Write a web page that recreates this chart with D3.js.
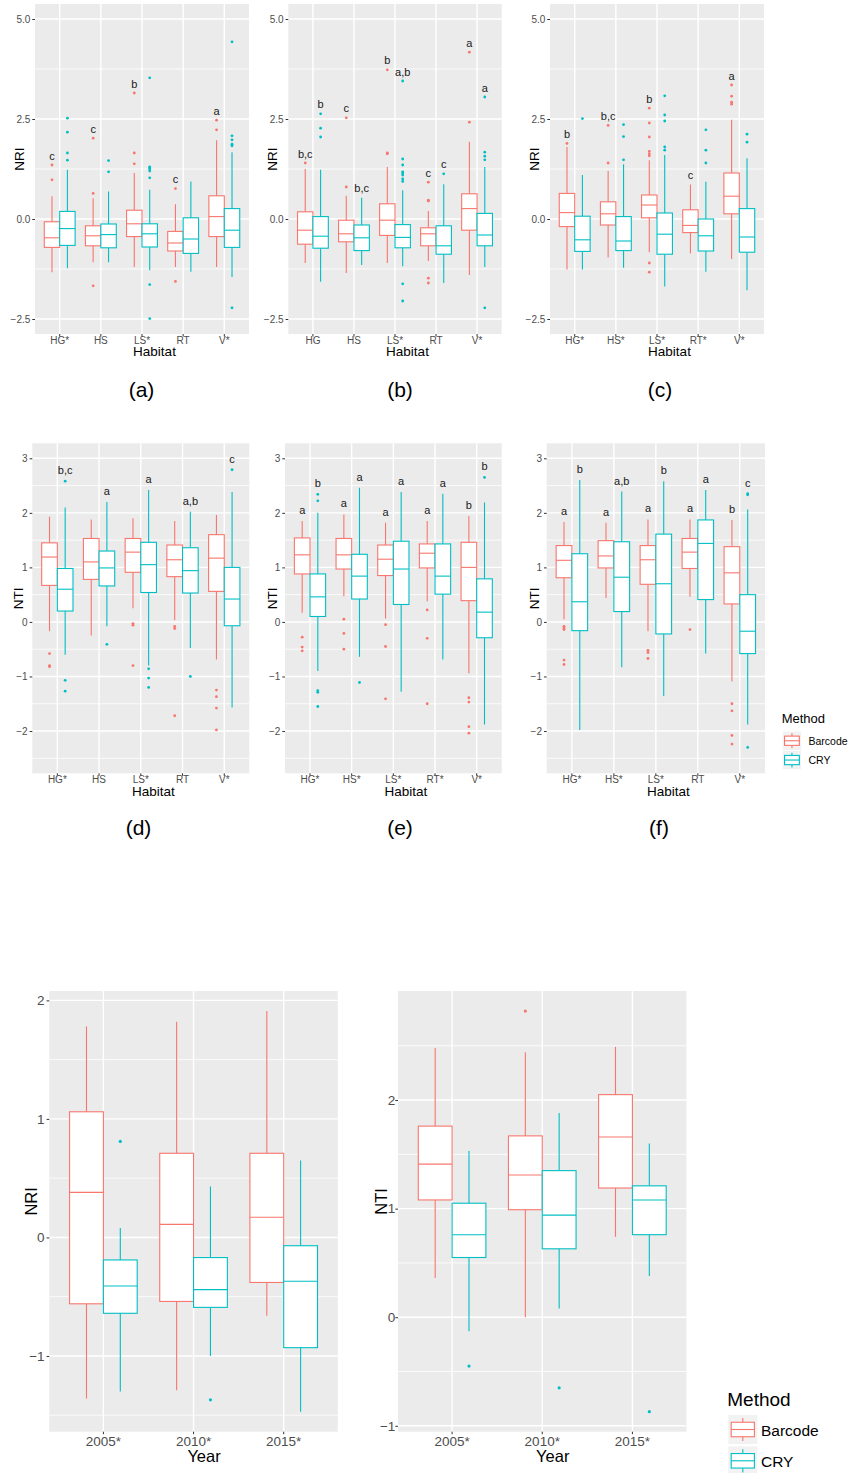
<!DOCTYPE html>
<html>
<head>
<meta charset="utf-8">
<script src="https://cdn.jsdelivr.net/npm/d3@7"></script>
<style>
  body { margin: 0; background: #fff; }
  svg { display: block; font-family: "Liberation Sans", Arial, Helvetica, sans-serif; }
</style>
</head>
<body>
<svg id="fig" width="852" height="1473"></svg>
<script>
// ---------- categories ----------
const habitats = ["HG", "HS", "LS", "RT", "V"];
const methods = ["Barcode", "CRY"];
const years = ["2005", "2010", "2015"];
const methodColors = ["#F8766D", "#00BFC4"];

// x tick labels (an asterisk marks a significant method difference)
const xLabelsA = ["HG*", "HS", "LS*", "RT", "V*"];
const xLabelsB = ["HG", "HS", "LS*", "RT", "V*"];
const xLabelsC = ["HG*", "HS*", "LS*", "RT*", "V*"];
const xLabelsD = ["HG*", "HS", "LS*", "RT", "V*"];
const xLabelsE = ["HG*", "HS*", "LS*", "RT*", "V*"];
const xLabelsF = ["HG*", "HS*", "LS*", "RT", "V*"];
const xLabelsYear = ["2005*", "2010*", "2015*"];

// y tick values
const nriTicks = [-2.5, 0, 2.5, 5];
const nriMinor = [-1.25, 1.25, 3.75];
const ntiTicks = [-2, -1, 0, 1, 2, 3];
const ntiMinor = [-2.5, -1.5, -0.5, 0.5, 1.5, 2.5];
const yearNriTicks = [-1, 0, 1, 2];
const yearNriMinor = [-1.5, -0.5, 0.5, 1.5];
const yearNtiTicks = [-1, 0, 1, 2];
const yearNtiMinor = [-0.5, 0.5, 1.5, 2.5];

// box statistics per habitat: [lower whisker, Q1, median, Q3, upper whisker]
// (a) NRI
const aBarcode = [[-1.33,-0.71,-0.47,-0.07,0.57],[-1.08,-0.67,-0.42,-0.17,0.52],[-1.2,-0.44,-0.12,0.22,1.15],[-1.2,-0.8,-0.6,-0.31,0.37],[-1.2,-0.44,0.06,0.58,1.97]];
const aBarcodeOut = [[0.98,1.35],[0.64,2.02,-1.67],[1.38,1.65,3.15],[0.76,-1.56],[2.23,2.47]];
const aCry = [[-1.23,-0.66,-0.24,0.19,1.23],[-1.08,-0.72,-0.39,-0.125,0.69],[-1.28,-0.7,-0.37,-0.12,0.73],[-1.32,-0.86,-0.5,0.03,0.94],[-1.45,-0.71,-0.28,0.26,1.67]];
const aCryOut = [[1.47,1.65,2.17,2.52],[1.18,1.46],[1.03,1.2,1.25,1.28,1.3,3.53,-1.64,-2.49],[],[1.83,1.87,1.98,2.08,4.43,-2.22]];
const aLettersBarcode = ["c","c","b","c","a"];
const aLettersCry = ["","","","",""];

// (b) NRI
const bBarcode = [[-1.1,-0.63,-0.28,0.18,1.25],[-1.35,-0.57,-0.37,-0.03,0.58],[-1.1,-0.41,-0.03,0.38,1.3],[-1.05,-0.67,-0.37,-0.22,0.2],[-1.4,-0.28,0.26,0.63,1.93]];
const bBarcodeOut = [[1.4],[0.8,2.53],[1.63,1.65,3.73],[0.45,0.47,0.92,-1.48,-1.6],[2.42,4.17]];
const bCry = [[-1.57,-0.73,-0.43,0.06,1.23],[-1.15,-0.79,-0.47,-0.15,0.53],[-1.18,-0.72,-0.46,-0.14,0.72],[-1.6,-0.88,-0.67,-0.17,0.87],[-1.2,-0.67,-0.4,0.14,1.3]];
const bCryOut = [[2.05,2.27,2.63],[],[0.94,1.0,1.1,1.15,1.18,1.35,1.5,3.45,-1.62,-2.05],[1.13],[1.48,1.57,1.67,3.05,-2.22]];
const bLettersBarcode = ["b,c","c","b","c","a"];
const bLettersCry = ["b","b,c","a,b","c","a"];

// (c) NRI
const cBarcode = [[-1.26,-0.19,0.16,0.64,1.8],[-0.96,-0.15,0.13,0.43,1.2],[-0.83,0.03,0.35,0.6,1.47],[-0.86,-0.34,-0.16,0.23,0.86],[-1.0,0.13,0.57,1.15,2.48]];
const cBarcodeOut = [[1.89],[1.4,2.34],[1.58,1.63,1.69,2.05,2.4,2.77,-1.1,-1.33],[],[2.87,2.92,3.07,3.35]];
const cCry = [[-1.26,-0.81,-0.52,0.07,1.1],[-1.22,-0.79,-0.55,0.06,1.37],[-1.69,-0.88,-0.38,0.15,1.6],[-1.32,-0.8,-0.42,0.0,0.93],[-1.78,-0.83,-0.45,0.26,1.52]];
const cCryOut = [[2.51],[1.48,2.06,2.36],[1.72,1.8,2.45,2.6,3.08],[1.4,1.72,2.23],[1.92,2.12]];
const cLettersBarcode = ["b","b,c","b","c","a"];
const cLettersCry = ["","","","",""];

// (d) NTI
const dBarcode = [[-0.17,0.67,1.19,1.45,1.93],[-0.25,0.78,1.1,1.53,1.88],[0.25,0.91,1.28,1.53,1.9],[0.03,0.83,1.14,1.41,1.85],[-0.69,0.56,1.17,1.6,1.96]];
const dBarcodeOut = [[-0.58,-0.8,-0.82],[],[-0.03,-0.06,-0.8],[-0.08,-0.12,-1.72],[-1.25,-1.37,-1.58,-1.98]];
const dCry = [[-0.6,0.2,0.6,0.98,2.1],[-0.08,0.66,0.99,1.3,2.2],[-0.8,0.54,1.05,1.46,2.42],[-0.48,0.53,0.94,1.36,2.02],[-1.57,-0.07,0.42,1.0,2.38]];
const dCryOut = [[2.58,-1.07,-1.27],[-0.41],[-0.86,-1.03,-1.2],[-1.0],[2.79]];
const dLettersBarcode = ["","","","",""];
const dLettersCry = ["b,c","a","a","a,b","c"];

// (e) NTI
const eBarcode = [[0.17,0.88,1.23,1.54,1.85],[0.47,0.97,1.23,1.53,1.97],[0.06,0.85,1.15,1.41,1.82],[0.38,0.99,1.26,1.43,1.85],[-0.94,0.39,1.0,1.46,1.94]];
const eBarcodeOut = [[-0.28,-0.46,-0.53],[0.05,-0.21,-0.5],[-0.05,-0.45,-1.41],[0.22,-0.3,-1.5],[-1.39,-1.47,-1.92,-2.04]];
const eCry = [[-0.9,0.1,0.46,0.88,2.0],[-0.64,0.42,0.84,1.24,2.46],[-1.28,0.32,0.97,1.48,2.38],[-0.69,0.51,0.84,1.43,2.35],[-1.88,-0.29,0.18,0.79,2.19]];
const eCryOut = [[2.22,2.34,-1.26,-1.29,-1.55],[-1.11],[],[],[2.65]];
const eLettersBarcode = ["a","a","a","a","b"];
const eLettersCry = ["b","a","a","a","b"];

// (f) NTI
const fBarcode = [[0.05,0.81,1.13,1.4,1.83],[0.44,0.99,1.21,1.49,1.82],[-0.17,0.69,1.14,1.4,1.88],[0.46,0.98,1.28,1.53,1.88],[-1.09,0.33,0.9,1.38,1.87]];
const fBarcodeOut = [[-0.08,-0.11,-0.14,-0.7,-0.78],[],[-0.52,-0.56,-0.67],[-0.14],[-1.5,-1.63,-2.08,-2.24]];
const fCry = [[-1.98,-0.16,0.37,1.25,2.6],[-0.83,0.19,0.82,1.47,2.39],[-1.36,-0.22,0.7,1.61,2.58],[-0.58,0.41,1.44,1.87,2.42],[-1.88,-0.58,-0.17,0.5,2.06]];
const fCryOut = [[],[],[],[],[2.33,2.35,-2.3]];
const fLettersBarcode = ["a","a","a","a","b"];
const fLettersCry = ["b","a,b","b","a","c"];

// NRI by year
const yNriBarcode = [[-1.36,-0.56,0.38,1.06,1.78],[-1.29,-0.54,0.11,0.71,1.82],[-0.66,-0.38,0.17,0.71,1.91]];
const yNriBarcodeOut = [[],[],[]];
const yNriCry = [[-1.3,-0.64,-0.41,-0.19,0.08],[-1.0,-0.59,-0.44,-0.17,0.43],[-1.47,-0.93,-0.37,-0.07,0.65]];
const yNriCryOut = [[0.81],[-1.37],[]];

// NTI by year
const yNtiBarcode = [[0.36,1.08,1.41,1.76,2.48],[0.0,0.99,1.31,1.67,2.44],[0.74,1.19,1.66,2.05,2.49]];
const yNtiBarcodeOut = [[],[2.82],[]];
const yNtiCry = [[-0.13,0.55,0.76,1.05,1.53],[0.08,0.63,0.94,1.35,1.88],[0.38,0.76,1.08,1.21,1.6]];
const yNtiCryOut = [[-0.45],[-0.65],[-0.87]];

// ---------- drawing ----------
const svg = d3.select("#fig");
const color = d3.scaleOrdinal(methods, methodColors);

function drawPanel(p) {
  const g = svg.append("g");
  const x = d3.scaleBand().domain(p.categories).range([p.left, p.left + p.width])
    .paddingInner(0).paddingOuter(0.1);
  const step = x.step();
  const dodge = d3.scaleBand().domain(methods).range([-0.375 * step, 0.375 * step]);

  // y limits: fixed limits or data range, expanded 5% on both sides
  let lo, hi;
  if (p.limits) { [lo, hi] = p.limits; }
  else {
    const all = p.series.flatMap(s => s.stats.flat().concat(s.out.flat()));
    lo = d3.min(all); hi = d3.max(all);
  }
  const pad = 0.05 * (hi - lo);
  const y = d3.scaleLinear().domain([lo - pad, hi + pad]).range([p.top + p.height, p.top]);

  g.append("rect").attr("x", p.left).attr("y", p.top)
    .attr("width", p.width).attr("height", p.height).attr("fill", "#EBEBEB");

  g.selectAll("line.minor").data(p.minor).join("line").attr("class", "minor")
    .attr("x1", p.left).attr("x2", p.left + p.width)
    .attr("y1", d => y(d)).attr("y2", d => y(d))
    .attr("stroke", "#fff").attr("stroke-width", 0.8);
  g.selectAll("line.majorY").data(p.ticks).join("line").attr("class", "majorY")
    .attr("x1", p.left).attr("x2", p.left + p.width)
    .attr("y1", d => y(d)).attr("y2", d => y(d))
    .attr("stroke", "#fff").attr("stroke-width", 1.4);
  g.selectAll("line.majorX").data(p.categories).join("line").attr("class", "majorX")
    .attr("x1", d => x(d) + step / 2).attr("x2", d => x(d) + step / 2)
    .attr("y1", p.top).attr("y2", p.top + p.height)
    .attr("stroke", "#fff").attr("stroke-width", 1.4);

  const bw = dodge.bandwidth();
  p.series.forEach(s => {
    const col = color(s.method);
    p.categories.forEach((c, i) => {
      const st = s.stats[i];
      const x0 = x(c) + step / 2 + dodge(s.method);
      const xc = x0 + bw / 2;
      const bg = g.append("g");
      bg.append("line").attr("x1", xc).attr("x2", xc).attr("y1", y(st[0])).attr("y2", y(st[1]))
        .attr("stroke", col).attr("stroke-width", 1.1);
      bg.append("line").attr("x1", xc).attr("x2", xc).attr("y1", y(st[3])).attr("y2", y(st[4]))
        .attr("stroke", col).attr("stroke-width", 1.1);
      bg.append("rect").attr("x", x0).attr("y", y(st[3]))
        .attr("width", bw).attr("height", y(st[1]) - y(st[3]))
        .attr("fill", "#fff").attr("stroke", col).attr("stroke-width", 1.1);
      bg.append("line").attr("x1", x0).attr("x2", x0 + bw).attr("y1", y(st[2])).attr("y2", y(st[2]))
        .attr("stroke", col).attr("stroke-width", 1.1);
      bg.selectAll("circle").data(s.out[i]).join("circle")
        .attr("cx", xc).attr("cy", d => y(d)).attr("r", p.dotR).attr("fill", col);
      if (s.letters && s.letters[i]) {
        const top = d3.max([st[4]].concat(s.out[i]));
        bg.append("text").attr("x", xc).attr("y", y(top) - p.letterGap)
          .attr("text-anchor", "middle").attr("font-size", 11).attr("fill", "#1A1A1A")
          .text(s.letters[i]);
      }
    });
  });

  // axes
  const yAxis = g.append("g").attr("transform", `translate(${p.left},0)`)
    .call(d3.axisLeft(y).tickValues(p.ticks).tickFormat(p.format).tickSize(2.7).tickPadding(p.yPad));
  const xAxis = g.append("g").attr("transform", `translate(0,${p.top + p.height})`)
    .call(d3.axisBottom(x).tickFormat((d, i) => p.xLabels[i]).tickSize(2.5).tickPadding(p.xPad));
  [yAxis, xAxis].forEach(a => {
    a.select(".domain").remove();
    a.selectAll(".tick line").attr("stroke", "#333").attr("stroke-width", 1);
    a.selectAll(".tick text").attr("fill", "#4D4D4D").attr("font-size", p.tickSize)
      .attr("font-family", "Liberation Sans, Arial, sans-serif");
  });

  // axis titles
  g.append("text").attr("x", p.left + p.width / 2 + p.xTitleDx).attr("y", p.top + p.height + p.xTitleDy)
    .attr("text-anchor", "middle").attr("font-size", p.titleSize).attr("fill", "#000").text(p.xTitle);
  g.append("text")
    .attr("transform", `translate(${p.yTitleX},${p.top + p.height / 2 - 10}) rotate(-90)`)
    .attr("text-anchor", "middle").attr("font-size", p.titleSize).attr("fill", "#000").text(p.yTitle);

  if (p.tag) {
    svg.append("text").attr("x", p.tagX).attr("y", p.tagY).attr("text-anchor", "middle")
      .attr("font-size", 21).attr("fill", "#000").text(p.tag);
  }
}

function series(barcode, barcodeOut, cry, cryOut, lb, lc) {
  return [
    { method: "Barcode", stats: barcode, out: barcodeOut, letters: lb },
    { method: "CRY", stats: cry, out: cryOut, letters: lc }
  ];
}

const fmt1 = d3.format(".1f");
const fmt0 = d3.format("d");
const small = { categories: habitats, dotR: 1.4, tickSize: 10, titleSize: 13.5, xTitle: "Habitat",
  xTitleDx: 12.5, xTitleDy: 22.3, yPad: 2, xPad: 0.3, height: 330 };

drawPanel(Object.assign({}, small, { left: 35, top: 4, width: 214, limits: [-2.5, 5], ticks: nriTicks, minor: nriMinor,
  format: fmt1, xLabels: xLabelsA, yTitle: "NRI", yTitleX: 23.5, letterGap: 5.5, tag: "(a)", tagX: 141.5, tagY: 396.5,
  series: series(aBarcode, aBarcodeOut, aCry, aCryOut, aLettersBarcode, aLettersCry) }));
drawPanel(Object.assign({}, small, { left: 288.3, top: 4, width: 213.4, limits: [-2.5, 5], ticks: nriTicks, minor: nriMinor,
  format: fmt1, xLabels: xLabelsB, yTitle: "NRI", yTitleX: 277.3, letterGap: 5.5, tag: "(b)", tagX: 400, tagY: 396.5,
  series: series(bBarcode, bBarcodeOut, bCry, bCryOut, bLettersBarcode, bLettersCry) }));
drawPanel(Object.assign({}, small, { left: 550, top: 4, width: 214, limits: [-2.5, 5], ticks: nriTicks, minor: nriMinor,
  format: fmt1, xLabels: xLabelsC, yTitle: "NRI", yTitleX: 539.3, letterGap: 5.5, tag: "(c)", tagX: 660, tagY: 396.5,
  series: series(cBarcode, cBarcodeOut, cCry, cCryOut, cLettersBarcode, cLettersCry) }));

drawPanel(Object.assign({}, small, { left: 32.3, top: 443.3, width: 217, limits: [-2.5, 3], ticks: ntiTicks, minor: ntiMinor,
  format: fmt0, xLabels: xLabelsD, yTitle: "NTI", yTitleX: 23.3, letterGap: 7, tag: "(d)", tagX: 138.5, tagY: 834.5,
  series: series(dBarcode, dBarcodeOut, dCry, dCryOut, dLettersBarcode, dLettersCry) }));
drawPanel(Object.assign({}, small, { left: 285, top: 443.3, width: 216.7, limits: [-2.5, 3], ticks: ntiTicks, minor: ntiMinor,
  format: fmt0, xLabels: xLabelsE, yTitle: "NTI", yTitleX: 277.3, letterGap: 7, tag: "(e)", tagX: 400, tagY: 834.5,
  series: series(eBarcode, eBarcodeOut, eCry, eCryOut, eLettersBarcode, eLettersCry) }));
drawPanel(Object.assign({}, small, { left: 546.7, top: 443.3, width: 218.3, limits: [-2.5, 3], ticks: ntiTicks, minor: ntiMinor,
  format: fmt0, xLabels: xLabelsF, yTitle: "NTI", yTitleX: 539, letterGap: 7, tag: "(f)", tagX: 659, tagY: 834.5,
  series: series(fBarcode, fBarcodeOut, fCry, fCryOut, fLettersBarcode, fLettersCry) }));

const big = { categories: years, dotR: 1.6, tickSize: 13.5, titleSize: 16.5, xTitle: "Year",
  xTitleDx: 10.5, xTitleDy: 30.5, xPad: 2.3, top: 991, height: 440.7, width: 288.5, letterGap: 6 };
drawPanel(Object.assign({}, big, { left: 49.3, ticks: yearNriTicks, minor: yearNriMinor, format: fmt0,
  xLabels: xLabelsYear, yTitle: "NRI", yTitleX: 36.7, yPad: 2,
  series: series(yNriBarcode, yNriBarcodeOut, yNriCry, yNriCryOut, null, null) }));
drawPanel(Object.assign({}, big, { left: 398, ticks: yearNtiTicks, minor: yearNtiMinor, format: fmt0,
  xLabels: xLabelsYear, yTitle: "NTI", yTitleX: 386.7, yPad: 0,
  series: series(yNtiBarcode, yNtiBarcodeOut, yNtiCry, yNtiCryOut, null, null) }));

// ---------- legends ----------
function drawLegend(l) {
  const g = svg.append("g");
  g.append("text").attr("x", l.x).attr("y", l.titleY).attr("font-size", l.titleSize).attr("fill", "#000").text("Method");
  methods.forEach((m, i) => {
    const ky = l.keyY + i * l.keyStep;
    const k = l.key, col = color(m);
    g.append("rect").attr("x", l.x + 1).attr("y", ky).attr("width", k).attr("height", k).attr("fill", "#F2F2F2");
    const cx = l.x + 1 + k / 2;
    g.append("line").attr("x1", cx).attr("x2", cx).attr("y1", ky + 0.1 * k).attr("y2", ky + 0.25 * k)
      .attr("stroke", col).attr("stroke-width", 1.1);
    g.append("line").attr("x1", cx).attr("x2", cx).attr("y1", ky + 0.75 * k).attr("y2", ky + 0.9 * k)
      .attr("stroke", col).attr("stroke-width", 1.1);
    g.append("rect").attr("x", l.x + 1 + 0.1 * k).attr("y", ky + 0.25 * k).attr("width", 0.8 * k).attr("height", 0.5 * k)
      .attr("fill", "#fff").attr("stroke", col).attr("stroke-width", 1.1);
    g.append("line").attr("x1", l.x + 1 + 0.1 * k).attr("x2", l.x + 1 + 0.9 * k).attr("y1", ky + 0.5 * k).attr("y2", ky + 0.5 * k)
      .attr("stroke", col).attr("stroke-width", 1.1);
    g.append("text").attr("x", l.labelX).attr("y", ky + k / 2 + l.labelDy)
      .attr("font-size", l.labelSize).attr("fill", "#000").text(m);
  });
}
drawLegend({ x: 781.7, titleY: 723, titleSize: 13, keyY: 731.5, key: 18.5, keyStep: 19.3, labelX: 808.5, labelSize: 10.5, labelDy: 4 });
drawLegend({ x: 727.3, titleY: 1406, titleSize: 19, keyY: 1415, key: 29, keyStep: 31.3, labelX: 761, labelSize: 15.5, labelDy: 6 });
</script>
</body>
</html>
